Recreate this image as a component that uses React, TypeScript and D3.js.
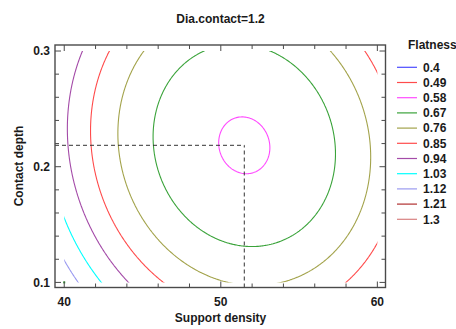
import React from 'react';
import * as d3 from 'd3';

const W = 456;
const H = 329;

// Contour levels of Flatness and their line colours
const levels = [0.4, 0.49, 0.58, 0.67, 0.76, 0.85, 0.94, 1.03, 1.12, 1.21, 1.3];
const levelColors = [
  '#4b4bff', '#ff4b4b', '#ff4bff', '#3aa33a', '#a3a34b', '#ff4b4b',
  '#a44ba8', '#00ffff', '#9a9af0', '#b03030', '#d88080',
];

const xTicks = [40, 50, 60];
const yTicks = [0.1, 0.2, 0.3];
const xMinorStep = 2;
const yMinorStep = 0.02;

// Experimental region covered by the fitted surface
const xRange = [40, 60];
const yRange = [0.1, 0.3];

// Design point shown on the plot
const designPoints: [number, number][] = [[40, 0.1]];

// Fitted response surface at Dia.contact = 1.2, written around its optimum:
// [value at optimum, density², depth², density·depth]
const optimum = [51.5, 0.2185];
const surfaceCoef = [0.5723, 0.0029, 12.85, 0.0326];

function flatness(xv: number, yv: number) {
  const dx = xv - optimum[0];
  const dy = yv - optimum[1];
  return surfaceCoef[0] + surfaceCoef[1] * dx * dx + surfaceCoef[2] * dy * dy + surfaceCoef[3] * dx * dy;
}

const FONT = '"Liberation Sans", Arial, Helvetica, sans-serif';

export default function App() {
  const x = d3.scaleLinear().domain([39.41, 60.52]).range([55, 385.5]);
  const y = d3.scaleLinear().domain([0.0956, 0.3052]).range([287.5, 45]);

  // Evaluate the surface on a grid slightly larger than the region; clip later
  const nx = 320;
  const ny = 320;
  const gx0 = xRange[0] - 1;
  const gx1 = xRange[1] + 1;
  const gy0 = yRange[0] - 0.01;
  const gy1 = yRange[1] + 0.01;
  const sx = (gx1 - gx0) / (nx - 1);
  const sy = (gy1 - gy0) / (ny - 1);
  const values: number[] = new Array(nx * ny);
  for (let j = 0; j < ny; j++) {
    for (let i = 0; i < nx; i++) {
      values[j * nx + i] = flatness(gx0 + i * sx, gy0 + j * sy);
    }
  }
  const gen = d3.contours().size([nx, ny]).smooth(true);

  const toPath = (geom: any) => {
    let d = '';
    for (const poly of geom.coordinates) {
      for (const ring of poly) {
        ring.forEach((p: number[], k: number) => {
          const px = x(gx0 + (p[0] - 0.5) * sx);
          const py = y(gy0 + (p[1] - 0.5) * sy);
          d += (k === 0 ? 'M' : 'L') + px.toFixed(2) + ',' + py.toFixed(2);
        });
        d += 'Z';
      }
    }
    return d;
  };

  const paths = levels.map((lv, i) => ({
    d: toPath(gen.contour(values, lv)),
    color: levelColors[i],
  }));

  const left = x.range()[0];
  const right = x.range()[1];
  const top = y.range()[1];
  const bottom = y.range()[0];

  const xMinor = d3.range(40, 60 + 0.001, xMinorStep);
  const yMinor = d3.range(0.1, 0.3 + 1e-6, yMinorStep);
  const isMajorX = (v: number) => xTicks.some((t) => Math.abs(t - v) < 1e-6);
  const isMajorY = (v: number) => yTicks.some((t) => Math.abs(t - v) < 1e-6);

  const frameColor = '#4a4a4a';
  const textColor = '#1a1a1a';

  return (
    <svg
      width={W}
      height={H}
      style={{ position: 'absolute', left: 0, top: 0, background: '#fff' }}
      fontFamily={FONT}
    >
      <defs>
        <clipPath id="region">
          <rect x={x(xRange[0])} y={y(yRange[1])} width={x(xRange[1]) - x(xRange[0])} height={y(yRange[0]) - y(yRange[1])} />
        </clipPath>
      </defs>

      <text x={220.5} y={22.5} textAnchor="middle" fontSize={12} fontWeight="bold" fill={textColor}>
        Dia.contact=1.2
      </text>

      {/* contour lines */}
      <g clipPath="url(#region)">
        {paths.map((p, i) => (
          <path key={i} d={p.d} fill="none" stroke={p.color} strokeWidth={1.1} />
        ))}
      </g>

      {/* optimum reference lines */}
      <line x1={left} x2={x(optimum[0])} y1={y(optimum[1])} y2={y(optimum[1])} stroke="#333" strokeWidth={1} strokeDasharray="4,3" />
      <line x1={x(optimum[0])} x2={x(optimum[0])} y1={bottom} y2={y(optimum[1])} stroke="#333" strokeWidth={1} strokeDasharray="4,3" />

      {designPoints.map((p, i) => (
        <rect key={i} x={x(p[0]) - 1} y={y(p[1]) - 1} width={2} height={2} fill="#2ca02c" />
      ))}

      {/* frame and ticks */}
      <rect x={left} y={top} width={right - left} height={bottom - top} fill="none" stroke={frameColor} strokeWidth={1.4} />
      {xMinor.map((v, i) => {
        const len = isMajorX(v) ? 6 : 4;
        const px = x(v);
        return (
          <g key={'xt' + i} stroke={frameColor} strokeWidth={1}>
            <line x1={px} x2={px} y1={bottom} y2={bottom - len} />
            <line x1={px} x2={px} y1={top} y2={top + len} />
          </g>
        );
      })}
      {yMinor.map((v, i) => {
        const len = isMajorY(v) ? 6 : 4;
        const py = y(v);
        return (
          <g key={'yt' + i} stroke={frameColor} strokeWidth={1}>
            <line x1={left} x2={left + len} y1={py} y2={py} />
            <line x1={right} x2={right - len} y1={py} y2={py} />
          </g>
        );
      })}

      {xTicks.map((t) => (
        <text key={'xl' + t} x={x(t)} y={306} textAnchor="middle" fontSize={12} fontWeight="bold" fill={textColor}>
          {t}
        </text>
      ))}
      {yTicks.map((t) => (
        <text key={'yl' + t} x={50} y={y(t)} dy="0.36em" textAnchor="end" fontSize={12} fontWeight="bold" fill={textColor}>
          {t.toFixed(1)}
        </text>
      ))}

      <text x={220.5} y={322} textAnchor="middle" fontSize={12} fontWeight="bold" fill={textColor}>
        Support density
      </text>
      <text transform="translate(22.5,166) rotate(-90)" textAnchor="middle" fontSize={12} fontWeight="bold" fill={textColor}>
        Contact depth
      </text>

      {/* legend */}
      <text x={408} y={49} fontSize={12} fontWeight="bold" fill={textColor}>
        Flatness
      </text>
      {levels.map((lv, i) => {
        const ly = 67.3 + i * 15.2;
        return (
          <g key={'lg' + i}>
            <line x1={397} x2={417} y1={ly} y2={ly} stroke={levelColors[i]} strokeWidth={1.2} />
            <text x={423} y={ly} dy="0.36em" fontSize={12} fontWeight="bold" fill={textColor}>
              {lv}
            </text>
          </g>
        );
      })}
    </svg>
  );
}
